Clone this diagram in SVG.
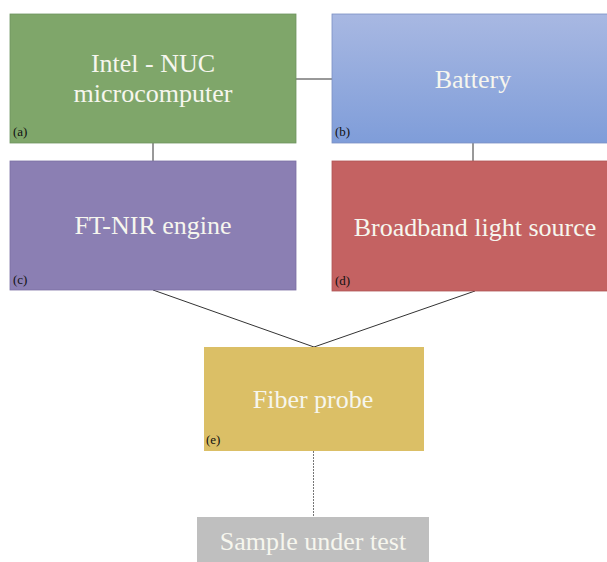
<svg xmlns="http://www.w3.org/2000/svg" width="607" height="562" viewBox="0 0 607 562">
<defs>
<linearGradient id="gb" x1="0" y1="0" x2="0" y2="1">
<stop offset="0" stop-color="#a8b8e2"/>
<stop offset="1" stop-color="#7f9dd9"/>
</linearGradient>
</defs>
<rect width="607" height="562" fill="#fff"/>
<g id="connectors" stroke="#333" stroke-width="1" fill="none">
<line x1="296" y1="79" x2="332" y2="79"/>
<line x1="153" y1="143" x2="153" y2="161"/>
<line x1="473" y1="143" x2="473" y2="161"/>
<line x1="153" y1="290" x2="314" y2="347"/>
<line x1="475" y1="291" x2="314" y2="347"/>
<line x1="313.5" y1="451" x2="313.5" y2="517" stroke="#777" stroke-dasharray="2,1"/>
</g>
<g id="a">
<rect x="10" y="14" width="286" height="129" fill="#7fa66a" stroke="#6e9460" stroke-width="0.8"/>
<text x="153" y="72" style="font-family:'Liberation Serif','Times New Roman',serif;font-size:26px" fill="#f6f6ee" text-anchor="middle">Intel - NUC</text>
<text x="153" y="102" style="font-family:'Liberation Serif','Times New Roman',serif;font-size:26px" fill="#f6f6ee" text-anchor="middle">microcomputer</text>
<text x="13" y="136" style="font-family:'Liberation Serif','Times New Roman',serif;font-size:13px" fill="#111">(a)</text>
</g>
<g id="b">
<rect x="332" y="14" width="280" height="129" fill="url(#gb)" stroke="#7a90c4" stroke-width="0.8"/>
<text x="473" y="88" style="font-family:'Liberation Serif','Times New Roman',serif;font-size:26px" fill="#f6f6ee" text-anchor="middle">Battery</text>
<text x="335" y="136" style="font-family:'Liberation Serif','Times New Roman',serif;font-size:13px" fill="#111">(b)</text>
</g>
<g id="c">
<rect x="10" y="161" width="286" height="129" fill="#8b7fb3" stroke="#7a6fa3" stroke-width="0.8"/>
<text x="153" y="234" style="font-family:'Liberation Serif','Times New Roman',serif;font-size:26px" fill="#f6f6ee" text-anchor="middle">FT-NIR engine</text>
<text x="13" y="284" style="font-family:'Liberation Serif','Times New Roman',serif;font-size:13px" fill="#111">(c)</text>
</g>
<g id="d">
<rect x="332" y="161" width="280" height="130" fill="#c46262" stroke="#b05555" stroke-width="0.8"/>
<text x="475" y="236" style="font-family:'Liberation Serif','Times New Roman',serif;font-size:26px" fill="#f6f6ee" text-anchor="middle">Broadband light source</text>
<text x="335" y="285" style="font-family:'Liberation Serif','Times New Roman',serif;font-size:13px" fill="#111">(d)</text>
</g>
<g id="e">
<rect x="204" y="347" width="220" height="104" fill="#dbbf66"/>
<text x="313" y="408" style="font-family:'Liberation Serif','Times New Roman',serif;font-size:26px" fill="#f6f6ee" text-anchor="middle">Fiber probe</text>
<text x="206" y="444" style="font-family:'Liberation Serif','Times New Roman',serif;font-size:13px" fill="#111">(e)</text>
</g>
<g id="sample">
<rect x="197" y="517" width="232" height="50" fill="#bfbfbf"/>
<text x="313" y="550" style="font-family:'Liberation Serif','Times New Roman',serif;font-size:26px" fill="#f6f6ee" text-anchor="middle">Sample under test</text>
</g>
</svg>
